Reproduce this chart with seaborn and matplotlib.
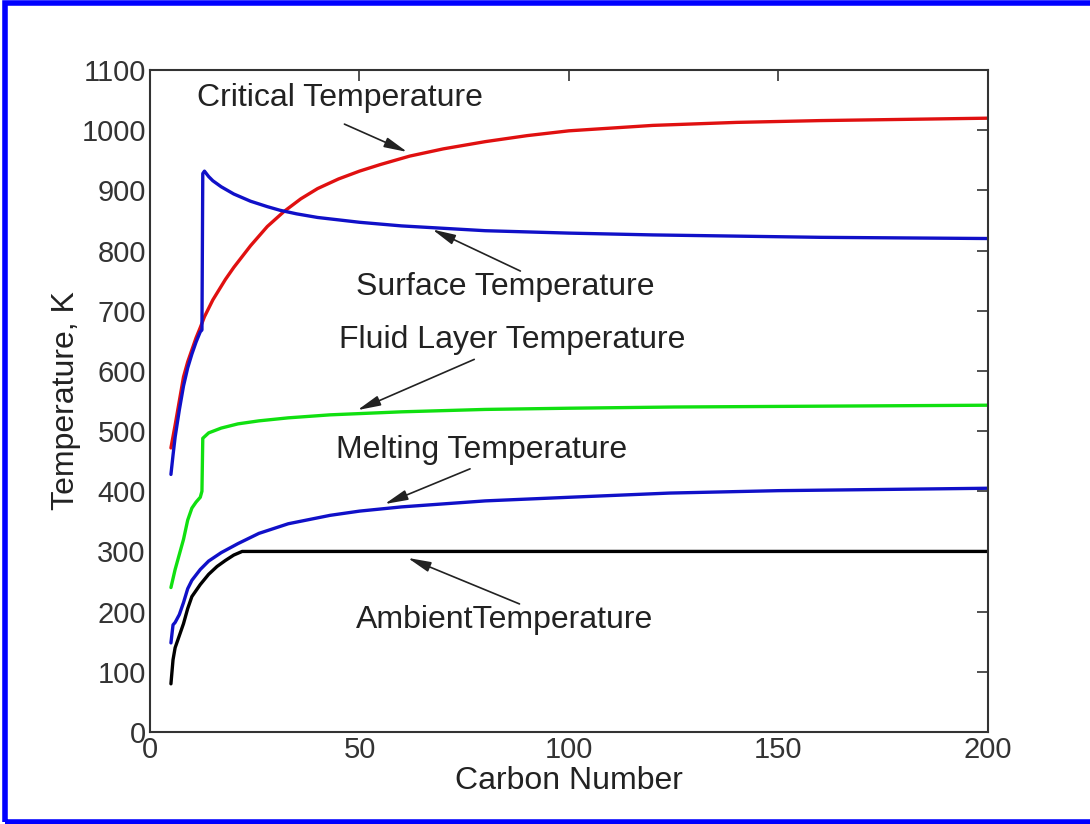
import matplotlib
matplotlib.use('Agg')
import matplotlib.pyplot as plt
from matplotlib.patches import Rectangle
import seaborn as sns
import numpy as np

# values
crit_x = [5, 6, 7, 8, 9, 10, 11, 12, 13, 15, 18, 20, 24, 28, 32, 36, 40, 45, 50, 55, 62, 70, 80, 90, 100, 120, 140, 160, 180, 200]
crit_t = [472, 510, 550, 590, 615, 635, 655, 672, 690, 718, 752, 772, 808, 840, 865, 886, 903, 919, 932, 943, 957, 969, 981, 991, 999, 1008, 1013, 1016, 1018, 1020]

surf_x = [5, 5.5, 6, 7, 8, 9, 10, 11, 12, 12.4, 12.6, 13, 14, 15, 17, 20, 24, 28, 31, 35, 40, 50, 60, 70, 80, 100, 120, 140, 160, 180, 200]
surf_t = [428, 460, 490, 535, 575, 605, 628, 648, 665, 668, 928, 932, 923, 916, 906, 894, 882, 873, 867, 861, 855, 847, 841, 837, 833, 829, 826, 824, 822, 821, 820]

fluid_x = [5, 6, 7, 8, 9, 10, 11, 12, 12.4, 12.6, 14, 17, 21, 26, 33, 43, 60, 80, 100, 125, 150, 200]
fluid_t = [240, 270, 295, 320, 352, 372, 382, 390, 400, 488, 497, 505, 512, 517, 522, 527, 532, 536, 538, 540, 541, 543]

melt_x = [5, 5.5, 6, 7, 8, 9, 10, 12, 14, 17, 21, 26, 33, 43, 50, 60, 70, 80, 100, 124, 150, 175, 200]
melt_t = [148, 178, 182, 195, 215, 238, 252, 270, 284, 298, 313, 330, 346, 360, 367, 374, 379, 384, 390, 397, 401, 403, 405]

amb_x = [5, 5.5, 6, 7, 8, 9, 10, 12, 14, 16, 18, 20, 22, 200]
amb_t = [80, 120, 140, 160, 180, 205, 225, 245, 262, 275, 285, 294, 300, 300]

# label text: (text, text pos, arrow tail, arrow head)
labels = [
    ('Critical Temperature', (45.3, 1053), (45.8, 1012), (62, 962)),
    ('Surface Temperature', (84.7, 739), (89, 764), (66.8, 837)),
    ('Fluid Layer Temperature', (86.4, 651), (78, 621), (48.9, 533)),
    ('Melting Temperature', (79.2, 469), (77, 439), (55.4, 377)),
    ('AmbientTemperature', (84.7, 186), (88.8, 211), (60.9, 291)),
]

sns.set_style('white')
plt.rcParams['font.family'] = ['Liberation Sans', 'DejaVu Sans']

fig = plt.figure(figsize=(10.9, 8.24), dpi=100)
ax = fig.add_axes([0.1376, 0.1117, 0.7688, 0.8033])

sns.lineplot(x=crit_x, y=crit_t, ax=ax, color='#e01010', lw=2.4, estimator=None)
sns.lineplot(x=surf_x, y=surf_t, ax=ax, color='#1010c8', lw=2.4, estimator=None)
sns.lineplot(x=fluid_x, y=fluid_t, ax=ax, color='#10e010', lw=2.4, estimator=None)
sns.lineplot(x=melt_x, y=melt_t, ax=ax, color='#1010c8', lw=2.4, estimator=None)
sns.lineplot(x=amb_x, y=amb_t, ax=ax, color='black', lw=2.4, estimator=None)

for txt, pos, tail, head in labels:
    ax.text(pos[0], pos[1], txt, ha='center', va='center', fontsize=23, color='#222222')
    ax.annotate('', xy=head, xytext=tail,
                arrowprops=dict(arrowstyle='-|>,head_length=1.0,head_width=0.22',
                                color='#222222', lw=1.2, mutation_scale=14))

ax.set_xlim(0, 200)
ax.set_ylim(0, 1100)
ax.set_xticks(np.arange(0, 201, 50))
ax.set_yticks(np.arange(0, 1101, 100))
ax.tick_params(direction='in', length=8, width=1.2, top=True, right=True,
               labelsize=21, colors='#333333', pad=3)
for s in ax.spines.values():
    s.set_color('#333333')
    s.set_linewidth(1.5)
ax.set_xlabel('Carbon Number', fontsize=23, color='#222222', labelpad=1)
ax.set_ylabel('Temperature, K', fontsize=23, color='#222222', labelpad=0)

# blue frame round the figure
fig.patches.append(Rectangle((0.005, 0.003), 1.1, 0.993, transform=fig.transFigure,
                             fill=False, edgecolor='#0000ff', lw=4))

fig.savefig('out.png', dpi=100)
